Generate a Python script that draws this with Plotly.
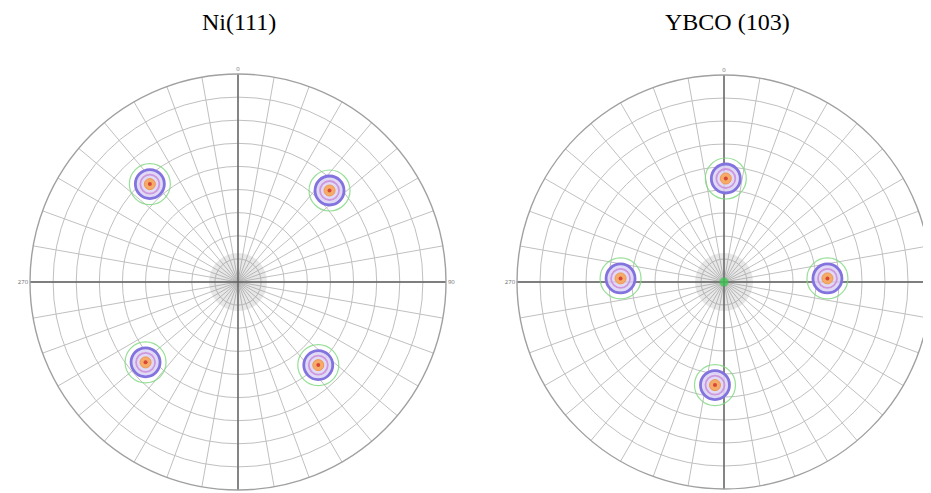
import plotly.graph_objects as go

# figure sits at an 8px page offset (default body margin), so fill the remaining viewport
W, H = 923, 485

# Pole positions (tilt chi in degrees, azimuth phi in degrees, clockwise from top)
ni_chi = [57, 56, 53, 50]
ni_phi = [318, 45, 229, 136]
ybco_chi = [45, 45, 45, 45]
ybco_phi = [1, 272, 88, 185]

titles = ["Ni(111)", "YBCO (103)"]
grid_tick_vals = list(range(0, 360, 10))
axis_labels = {0: "0", 90: "90", 180: "180", 270: "270"}
cross_theta = [0, 90, 180, 270]

fig = go.Figure()

def add_center_shade(sub):
    fig.add_trace(go.Scatterpolar(
        r=[0], theta=[0], mode="markers", subplot=sub,
        marker=dict(size=58, color="rgba(140,140,140,0.2)", line=dict(width=0)),
        showlegend=False, hoverinfo="skip"))

def add_poles(chi, phi, sub):
    # contour-like rings: (size, fill, line colour, line width)
    levels = [
        (41, "rgba(0,0,0,0)", "rgba(125,215,125,0.8)", 1.2),
        (29, "rgba(222,214,245,0.9)", "rgb(130,115,222)", 2.8),
        (19, "rgba(0,0,0,0)", "rgba(200,135,215,0.8)", 1.8),
        (11, "rgb(245,172,105)", "rgb(240,150,80)", 1),
        (4, "rgb(215,70,55)", "rgb(215,70,55)", 0),
    ]
    for size, fill, lc, lw in levels:
        fig.add_trace(go.Scatterpolar(
            r=chi, theta=phi, mode="markers", subplot=sub,
            marker=dict(size=size, color=fill, line=dict(color=lc, width=lw)),
            showlegend=False, hoverinfo="skip"))

def add_cross(sub):
    for t in cross_theta:
        fig.add_trace(go.Scatterpolar(
            r=[0, 95], theta=[t, t], mode="lines", subplot=sub,
            line=dict(color="rgb(95,95,95)", width=1.4),
            cliponaxis=False, showlegend=False, hoverinfo="skip"))

add_center_shade("polar")
add_cross("polar")
add_poles(ni_chi, ni_phi, "polar")
add_center_shade("polar2")
add_cross("polar2")
add_poles(ybco_chi, ybco_phi, "polar2")
# weak central spot in YBCO
fig.add_trace(go.Scatterpolar(r=[0], theta=[0], mode="markers", subplot="polar2",
                              marker=dict(size=9, color="rgba(60,200,80,0.75)"),
                              showlegend=False, hoverinfo="skip"))

def polar_layout(xd):
    return dict(
        domain=dict(x=xd, y=[3 / H, 419 / H]),
        bgcolor="white",
        radialaxis=dict(range=[0, 90], dtick=10, showticklabels=False, ticks="",
                        showline=False, gridcolor="rgb(192,192,192)", gridwidth=1.4),
        angularaxis=dict(rotation=90, direction="clockwise", tickmode="array",
                         tickvals=grid_tick_vals,
                         ticktext=[axis_labels.get(v, "") for v in grid_tick_vals],
                         tickfont=dict(size=6, color="rgb(110,110,110)"),
                         ticks="", showline=True, linecolor="rgb(160,160,160)", linewidth=1.4,
                         gridcolor="rgb(192,192,192)", gridwidth=1.4),
    )

fig.update_layout(
    width=W, height=H, margin=dict(l=0, r=0, t=0, b=0),
    paper_bgcolor="white", plot_bgcolor="white",
    polar=polar_layout([22 / W, 438 / W]),
    polar2=polar_layout([509 / W, 1.0]),
    annotations=[
        dict(text=titles[0], x=231 / W, y=1 - 14 / H, xref="paper", yref="paper",
             xanchor="center", yanchor="middle", showarrow=False,
             font=dict(family="Liberation Serif", size=24, color="black")),
        dict(text=titles[1], x=719 / W, y=1 - 14 / H, xref="paper", yref="paper",
             xanchor="center", yanchor="middle", showarrow=False,
             font=dict(family="Liberation Serif", size=24, color="black")),
    ],
)

fig.write_html("out.html")
